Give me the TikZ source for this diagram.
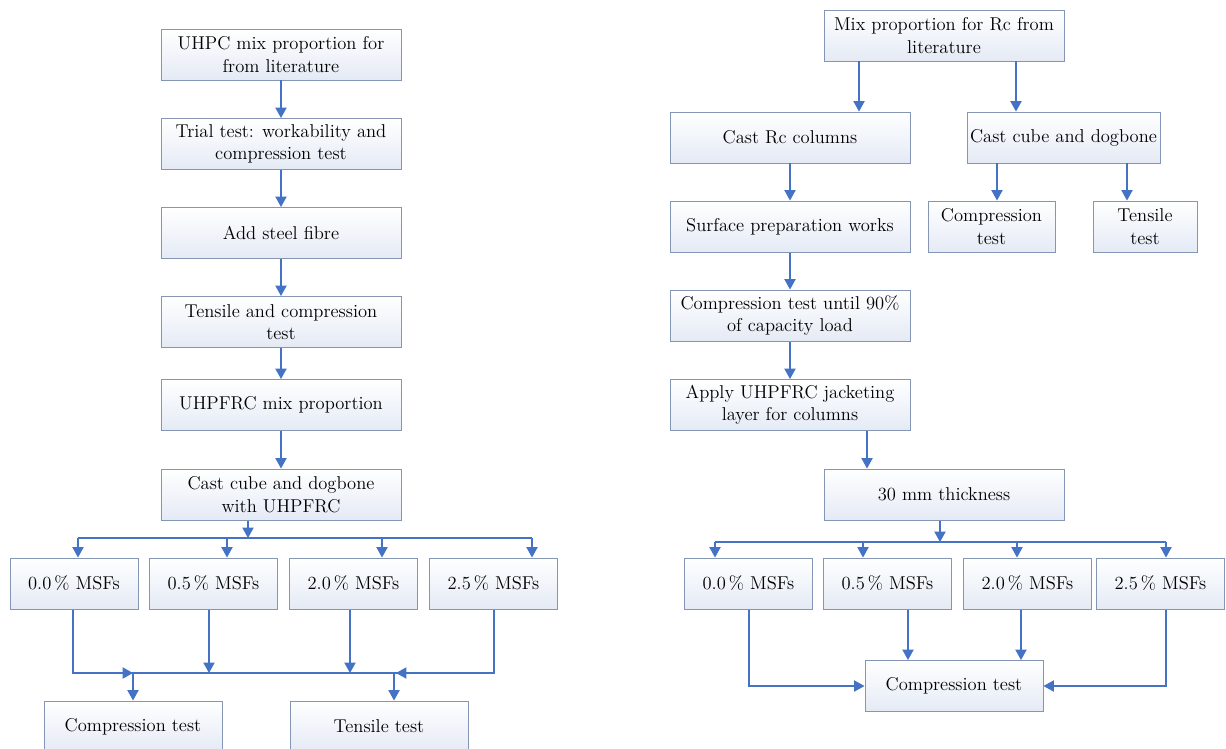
\documentclass[tikz,border=0pt]{standalone}
\usepackage{tikz}
\usetikzlibrary{arrows.meta,positioning,calc}
\definecolor{FlowBlue}{HTML}{4472C4}
\definecolor{BoxLine}{HTML}{8496B4}
\definecolor{BoxShade}{HTML}{E4EAF5}

\begin{document}
\begin{tikzpicture}[x=0.25mm,y=-0.25mm,
  every node/.style={font=\fontsize{13.2}{16}\selectfont},
  stage/.style={draw=BoxLine,line width=0.7pt,top color=white,bottom color=BoxShade,
    inner sep=0pt,align=center,minimum width=60mm,minimum height=12.75mm},
  dose/.style={stage,minimum width=32mm},
  flow/.style={-{Triangle[length=2.6mm,width=2.8mm]},line width=0.9pt,FlowBlue},
  link/.style={line width=0.9pt,FlowBlue}]
  \useasboundingbox (0,0) rectangle (1226,748);
  % left chart: UHPFRC material tests
  \node[stage] (l1) at (281,54.5) {UHPC mix proportion for\\from literature};
  \node[stage] (l2) at (281,144) {Trial test: workability and\\compression test};
  \node[stage] (l3) at (281,233) {Add steel fibre};
  \node[stage] (l4) at (281,322) {Tensile and compression\\test};
  \node[stage] (l5) at (281,405) {UHPFRC mix proportion};
  \node[stage] (l6) at (281,494.5) {Cast cube and dogbone\\with UHPFRC};
  \node[dose] (m1) at (74,583.5) {0.0\,\% MSFs};
  \node[dose] (m2) at (213.5,583.5) {0.5\,\% MSFs};
  \node[dose] (m3) at (353.5,583.5) {2.0\,\% MSFs};
  \node[dose] (m4) at (493.5,583.5) {2.5\,\% MSFs};
  \node[stage,minimum width=44.5mm] (lc) at (133,726.5) {Compression test};
  \node[stage,minimum width=44.5mm] (lt) at (379,726.5) {Tensile test};
  \foreach \x/\y in {l1/l2,l2/l3,l3/l4,l4/l5,l5/l6}{\draw[flow] (\x) -- (\y);}
  \coordinate (lsplit) at (248,538);
  \draw[flow] (l6.south -| lsplit) -- (lsplit);
  \draw[link] (78,538) -- (532,538);
  \foreach \n/\x in {m1/78,m2/227,m3/382,m4/532}{\draw[flow] (\x,538) -- (\n.north -| \x,0);}
  \draw[link] (m1.south -| 73,0) -- (73,673) -- (494,673) -- (m4.south -| 494,0);
  \draw[flow] (73,673) -- (133,673);
  \draw[flow] (494,673) -- (396,673);
  \draw[flow] (m2.south -| 209,0) -- (209,673);
  \draw[flow] (m3.south -| 350,0) -- (350,673);
  \draw[flow] (133,673) -- (lc.north);
  \draw[flow] (394,673) -- (lt.north -| 394,0);
  % right chart: jacketed RC columns
  \node[stage] (r1) at (944,35.5) {Mix proportion for Rc from\\literature};
  \node[stage] (r2) at (790,137.5) {Cast Rc columns};
  \node[stage,minimum width=48.25mm] (r3) at (1063.5,137.5) {Cast cube and dogbone};
  \node[stage,minimum width=31.75mm] (r4) at (991.5,226.5) {Compression\\test};
  \node[stage,minimum width=26mm] (r5) at (1145,226.5) {Tensile\\test};
  \node[stage] (r6) at (790,226.5) {Surface preparation works};
  \node[stage] (r7) at (790,315.5) {Compression test until 90\%\\of capacity load};
  \node[stage] (r8) at (790,405) {Apply UHPFRC jacketing\\layer for columns};
  \node[stage] (r9) at (944,494.5) {30 mm thickness};
  \node[dose] (n1) at (748.5,583.5) {0.0\,\% MSFs};
  \node[dose] (n2) at (887.5,583.5) {0.5\,\% MSFs};
  \node[dose] (n3) at (1027.5,583.5) {2.0\,\% MSFs};
  \node[dose] (n4) at (1160.5,583.5) {2.5\,\% MSFs};
  \node[stage,minimum width=44.5mm] (rc) at (954,686) {Compression test};
  \draw[flow] (r1.south -| 859,0) -- (r2.north -| 859,0);
  \draw[flow] (r1.south -| 1016,0) -- (r3.north -| 1016,0);
  \draw[flow] (r3.south -| 997,0) -- (r4.north -| 997,0);
  \draw[flow] (r3.south -| 1127,0) -- (r5.north -| 1127,0);
  \foreach \x/\y in {r2/r6,r6/r7,r7/r8}{\draw[flow] (\x) -- (\y);}
  \draw[flow] (r8.south -| 867,0) -- (r9.north -| 867,0);
  \draw[flow] (r9.south -| 940,0) -- (940,542);
  \draw[link] (715,542) -- (1166,542);
  \foreach \n/\x in {n1/715,n2/863,n3/1017,n4/1166}{\draw[flow] (\x,542) -- (\n.north -| \x,0);}
  \draw[flow] (n1.south -| 749,0) |- (rc.west);
  \draw[flow] (n4.south -| 1166,0) |- (rc.east);
  \draw[flow] (n2.south -| 908,0) -- (rc.north -| 908,0);
  \draw[flow] (n3.south -| 1021,0) -- (rc.north -| 1021,0);
\end{tikzpicture}
\end{document}
